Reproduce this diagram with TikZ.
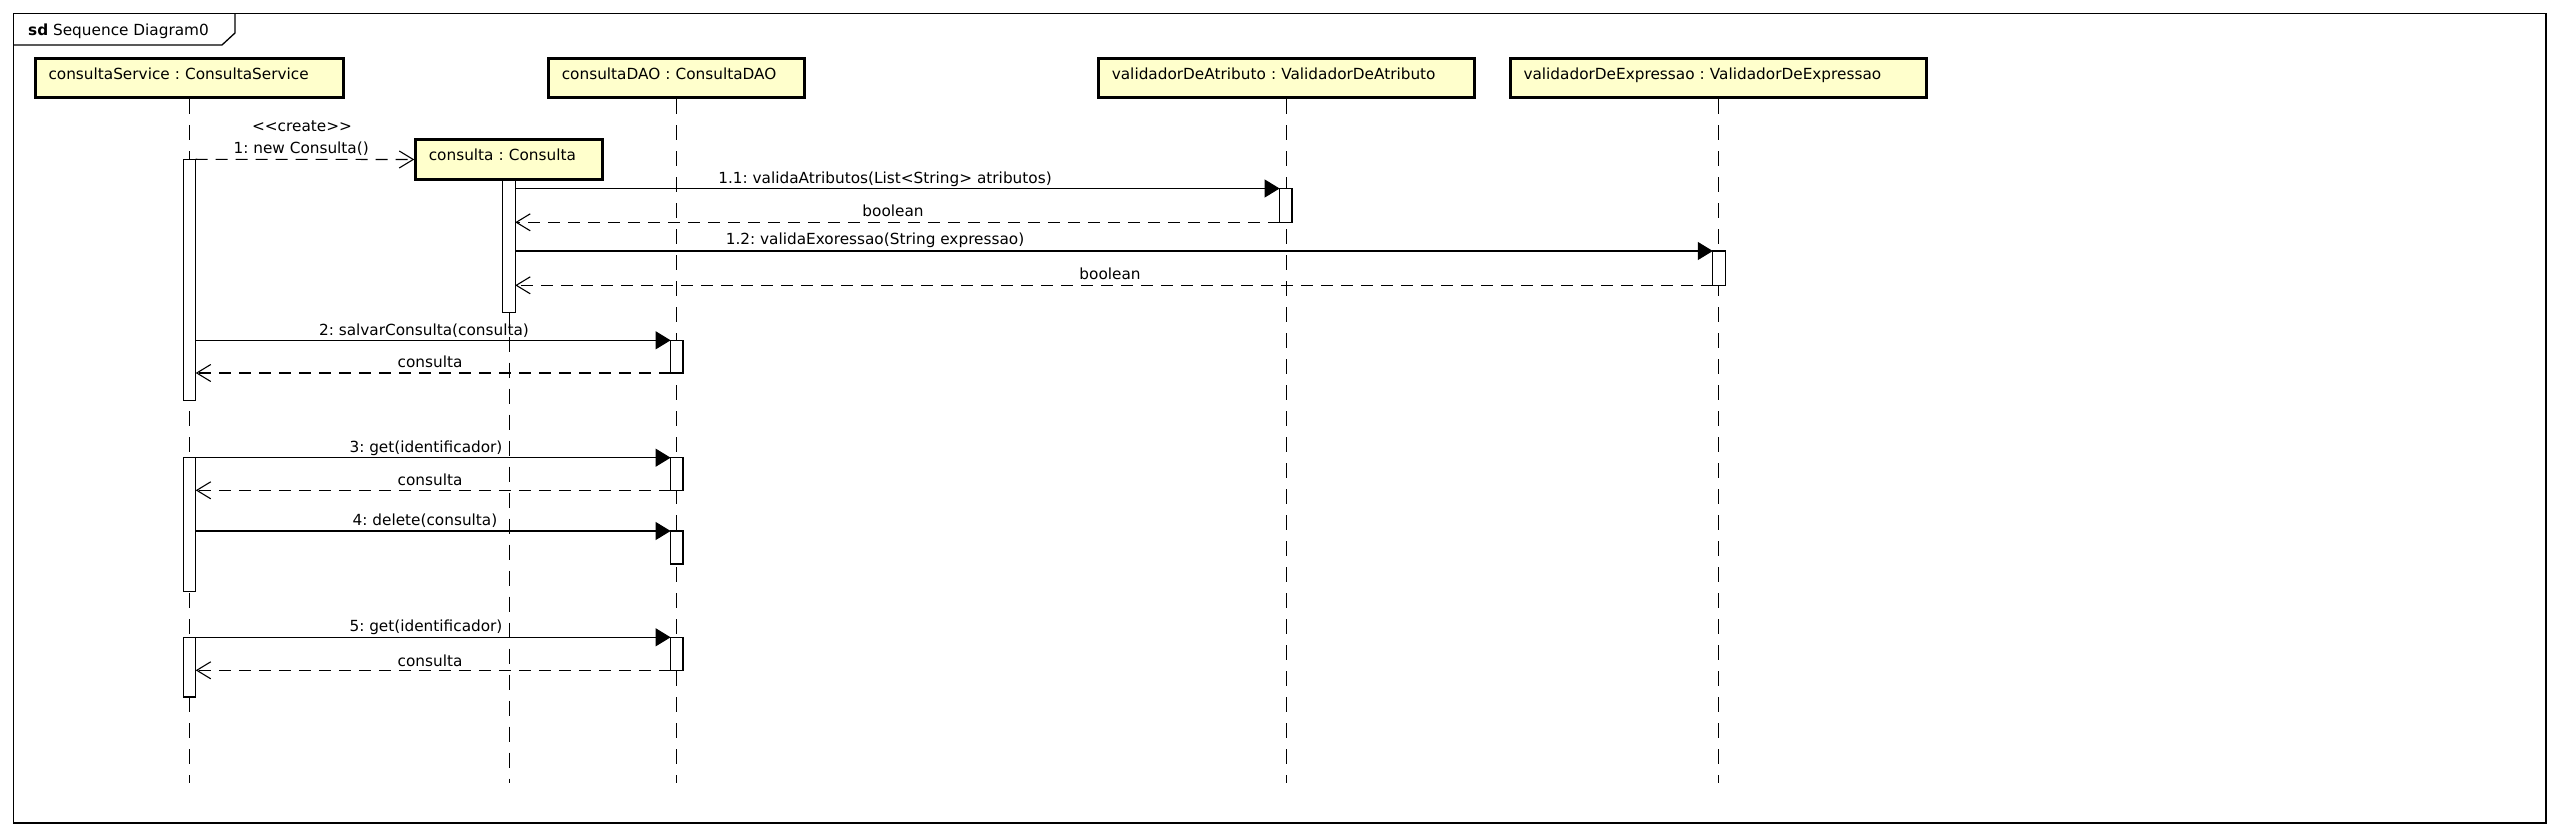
\documentclass[tikz,border=0pt]{standalone}
\usepackage{fontspec}
\setmainfont{DejaVu Sans}[Ligatures=TeXOff]
\usetikzlibrary{arrows.meta}
\definecolor{lifebox}{RGB}{255,255,204}
\frenchspacing
\tikzset{
  txt/.style={font=\frenchspacing\fontsize{15.3}{18}\selectfont, inner sep=0pt},
  objbox/.style={txt, draw, line width=3pt, fill=lifebox, inner xsep=13pt, inner ysep=0pt,
    align=left, text height=11pt, text depth=8pt, minimum height=39pt},
  lifeline/.style={line width=1.1pt, dash pattern=on 15pt off 11pt},
  actbar/.style={draw, fill=white, line width=1.1pt, minimum width=12.4pt, inner sep=0pt, outer sep=0pt, anchor=north},
  callmsg/.style={line width=1.1pt, -{Triangle[length=15pt,width=18pt]}},
  retmsg/.style={line width=1.1pt, dash pattern=on 12pt off 8pt, -{Straight Barb[length=14pt,width=17pt]}},
  msglabel/.style={txt, anchor=base},
}
\begin{document}
\begin{tikzpicture}[x=1pt,y=-1pt]
\useasboundingbox (0,0) rectangle (2560,837);
\fill[white] (0,0) rectangle (2560,837);
% frame
\node[draw, line width=1.3pt, minimum width=2532.5pt, minimum height=809.5pt, inner sep=0pt, outer sep=0pt, anchor=north west] (frame) at (13.5,13.5) {};
\draw[line width=1.3pt] (13.5,45) -- (222,45) -- (235,33) -- (235,13.5);
\node[txt, anchor=base west] (sdlabel) at (28,36) {\textbf{sd} Sequence Diagram0};
% lifeline heads
\node[objbox, text width=282pt] (cs) at (189.5,78) {consultaService : ConsultaService};
\node[objbox, text width=229.7pt] (dao) at (676.65,78.3) {consultaDAO : ConsultaDAO};
\node[objbox, text width=160.7pt, minimum height=39.4pt] (con) at (509.15,159.5) {consulta : Consulta};
\node[objbox, text width=349.4pt] (va) at (1286.5,78.3) {validadorDeAtributo : ValidadorDeAtributo};
\node[objbox, text width=389.7pt] (ve) at (1718.35,78.3) {validadorDeExpressao : ValidadorDeExpressao};
% lifelines
\coordinate (bot) at (0,783);
\draw[lifeline] (cs.south) -- (cs.south |- bot);
\draw[lifeline] (con.south) -- (con.south |- bot);
\draw[lifeline] (dao.south) -- (dao.south |- bot);
\draw[lifeline] (va.south) -- (va.south |- bot);
\draw[lifeline] (ve.south) -- (ve.south |- bot);
% activation bars
\node[actbar, minimum height=241pt] (sb1) at (189.5,159.3) {};
\node[actbar, minimum height=134pt] (sb2) at (189.5,457.7) {};
\node[actbar, minimum height=59.7pt] (sb3) at (189.5,637.3) {};
\node[actbar, minimum height=132.5pt] (cb) at (509,180.3) {};
\node[actbar, minimum height=33.8pt] (vab) at (1285.8,188.5) {};
\node[actbar, minimum height=34.3pt] (veb) at (1719,251) {};
\node[actbar, minimum height=32.7pt] (d1) at (676.8,340.3) {};
\node[actbar, minimum height=32.6pt] (d2) at (676.8,457.7) {};
\node[actbar, minimum height=33pt] (d3) at (676.8,531) {};
\node[actbar, minimum height=33pt] (d4) at (676.8,637.3) {};
% messages
\draw[retmsg] (sb1.north east) -- (con.west);
\node[msglabel] (l1a) at (302,131.7) {<<create>>};
\node[msglabel] (l1b) at (301.2,154) {1: new Consulta()};
\draw[callmsg] (cb.east |- vab.north) -- (vab.north west);
\node[msglabel] (l11) at (885,183.3) {1.1: validaAtributos(List<String> atributos)};
\draw[retmsg] (vab.south west) -- (cb.east |- vab.south);
\node[msglabel] (r11) at (893,216.7) {boolean};
\draw[callmsg] (cb.east |- veb.north) -- (veb.north west);
\node[msglabel] (l12) at (875,245) {1.2: validaExoressao(String expressao)};
\draw[retmsg] (veb.south west) -- (cb.east |- veb.south);
\node[msglabel] (r12) at (1110,279.3) {boolean};
\draw[callmsg] (sb1.east |- d1.north) -- (d1.north west);
\node[msglabel] (l2) at (424,335) {2: salvarConsulta(consulta)};
\draw[retmsg] (d1.south west) -- (sb1.east |- d1.south);
\node[msglabel] (r2) at (430,367) {consulta};
\draw[callmsg] (sb2.north east) -- (d2.north west);
\node[msglabel] (l3) at (426,452) {3: get(identificador)};
\draw[retmsg] (d2.south west) -- (sb2.east |- d2.south);
\node[msglabel] (r3) at (430,485) {consulta};
\draw[callmsg] (sb2.east |- d3.north) -- (d3.north west);
\node[msglabel] (l4) at (425,525) {4: delete(consulta)};
\draw[callmsg] (sb3.north east) -- (d4.north west);
\node[msglabel] (l5) at (426,631.7) {5: get(identificador)};
\draw[retmsg] (d4.south west) -- (sb3.east |- d4.south);
\node[msglabel] (r5) at (430,666) {consulta};
\end{tikzpicture}
\end{document}
